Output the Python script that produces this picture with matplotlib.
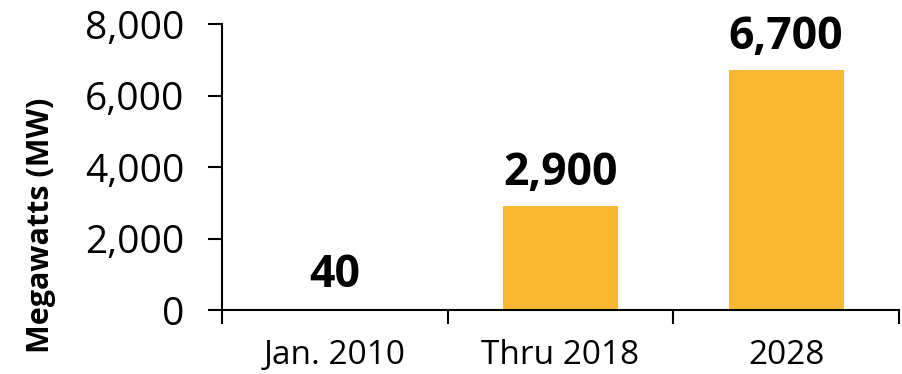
import matplotlib
matplotlib.use('Agg')
import matplotlib.pyplot as plt
from matplotlib.ticker import FuncFormatter

# capacity values
categories = ['Jan. 2010', 'Thru 2018', '2028']
megawatts = [40, 2900, 6700]
yticks = [0, 2000, 4000, 6000, 8000]

plt.rcParams['font.family'] = ['Open Sans', 'DejaVu Sans']

fig = plt.figure(figsize=(9.03, 3.74), dpi=100)
ax = fig.add_axes([0.2458, 0.1711, 0.7498, 0.7647])

x = range(len(categories))
ax.bar(x, megawatts, width=0.51, color='#F9B832')

for i, v in enumerate(megawatts):
    ax.text(i, v + 600, f'{v:,}', ha='center', va='baseline',
            fontsize=32, fontweight='bold', color='black')

ax.set_xlim(-0.5, 2.5)
ax.set_ylim(0, 8000)
ax.set_yticks(yticks)
ax.yaxis.set_major_formatter(FuncFormatter(lambda v, p: f'{int(v):,}'))
ax.set_xticks([-0.5, 0.5, 1.5, 2.5])
ax.set_xticklabels([])
ax.set_xticks(list(x), minor=True)
ax.set_xticklabels(categories, minor=True)
ax.tick_params(axis='x', which='minor', length=0, labelsize=24, pad=21)
ax.tick_params(axis='x', which='major', length=10, width=1.5, direction='out')
ax.tick_params(axis='y', length=10, width=1.5, labelsize=28, pad=17)

for s in ['top', 'right']:
    ax.spines[s].set_visible(False)
for s in ['left', 'bottom']:
    ax.spines[s].set_linewidth(1.5)

fig.text(41 / 903, 1 - 225 / 374, 'Megawatts (MW)', rotation=90,
         ha='center', va='center', fontsize=22, fontweight='bold')

fig.savefig('out.png', dpi=100)
